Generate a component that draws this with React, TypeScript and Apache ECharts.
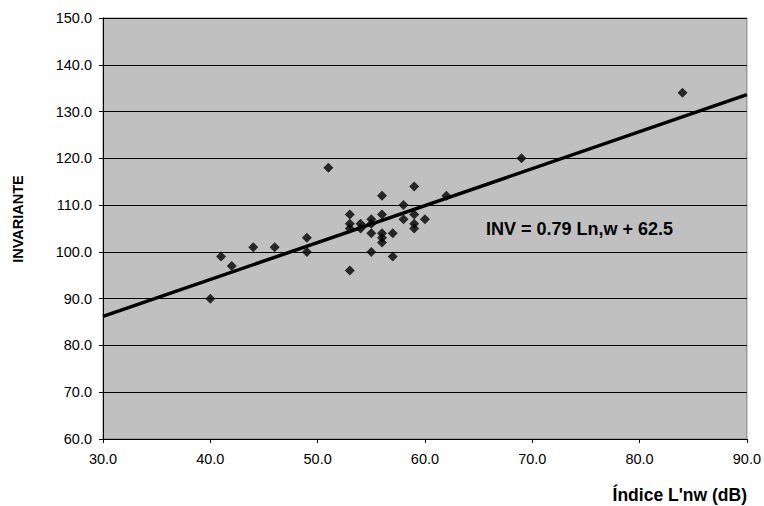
import React, { useEffect, useRef } from "react";
import * as echarts from "echarts";

const lnwValues = [40, 41, 42, 44, 46, 49, 49, 51, 53, 53, 53, 53, 54, 54, 55, 55, 55, 55, 56, 56, 56, 56, 56, 57, 57, 58, 58, 59, 59, 59, 59, 60, 62, 69, 84];
const invValues = [90, 99, 97, 101, 101, 103, 100, 118, 108, 106, 105, 96, 106, 105, 107, 106, 104, 100, 112, 108, 104, 103, 102, 104, 99, 110, 107, 114, 108, 106, 105, 107, 112, 120, 134];
const trendSlope = 0.79;
const trendIntercept = 62.5;
const trendX = [30, 90];
const equationText = "INV = 0.79 Ln,w + 62.5";
const xTitle = "Índice L'nw (dB)";
const yTitle = "INVARIANTE";

const FONT = "Arial, 'Liberation Sans', sans-serif";

export default function App() {
  const ref = useRef<HTMLDivElement>(null);
  useEffect(() => {
    if (!ref.current) return;
    const chart = echarts.init(ref.current, undefined, { renderer: "svg" });
    const points = lnwValues.map((x, i) => [x, invValues[i]]);
    const trend = trendX.map((x) => [x, +(trendSlope * x + trendIntercept).toFixed(3)]);
    chart.setOption({
      animation: false,
      textStyle: { fontFamily: FONT },
      grid: {
        left: 103,
        right: 17,
        top: 18,
        bottom: 67,
        show: true,
        backgroundColor: "#C0C0C0",
        borderColor: "#808080",
        borderWidth: 1,
      },
      xAxis: {
        type: "value",
        min: 30,
        max: 90,
        interval: 10,
        axisLine: { show: true, onZero: false, lineStyle: { color: "#000", width: 1 } },
        axisTick: { show: true, length: 4, lineStyle: { color: "#000" } },
        splitLine: { show: false },
        axisLabel: {
          color: "#000",
          fontSize: 14.5,
          fontFamily: FONT,
          margin: 12,
          formatter: (v: number) => v.toFixed(1),
        },
      },
      yAxis: {
        type: "value",
        min: 60,
        max: 150,
        interval: 10,
        axisLine: { show: true, onZero: false, lineStyle: { color: "#000", width: 1 } },
        axisTick: { show: true, length: 4, lineStyle: { color: "#000" } },
        splitLine: { show: true, lineStyle: { color: "#000", width: 1 } },
        axisLabel: {
          color: "#000",
          fontSize: 14.5,
          fontFamily: FONT,
          margin: 11,
          formatter: (v: number) => v.toFixed(1),
        },
      },
      series: [
        {
          type: "line",
          data: trend,
          symbol: "none",
          lineStyle: { color: "#000", width: 3.5 },
          z: 2,
        },
        {
          type: "scatter",
          data: points,
          symbol: "diamond",
          symbolSize: 10,
          itemStyle: { color: "#000" },
          z: 3,
        },
      ],
      graphic: [
        {
          type: "text",
          left: 486,
          top: 220,
          style: { text: equationText, fontSize: 18, fontWeight: "bold", fill: "#000", fontFamily: FONT },
        },
        {
          type: "text",
          right: 17,
          top: 486,
          style: { text: xTitle, fontSize: 17.5, fontWeight: "bold", fill: "#000", fontFamily: FONT },
        },
        {
          type: "text",
          x: 18,
          y: 219,
          rotation: Math.PI / 2,
          style: {
            text: yTitle,
            fontSize: 14.5,
            fontWeight: "bold",
            fill: "#000",
            fontFamily: FONT,
            align: "center",
            verticalAlign: "middle",
          },
        },
      ],
    });
    return () => chart.dispose();
  }, []);
  return (
    <div
      ref={ref}
      style={{ position: "fixed", left: 0, top: 0, width: 764, height: 506, background: "#fff" }}
    />
  );
}
